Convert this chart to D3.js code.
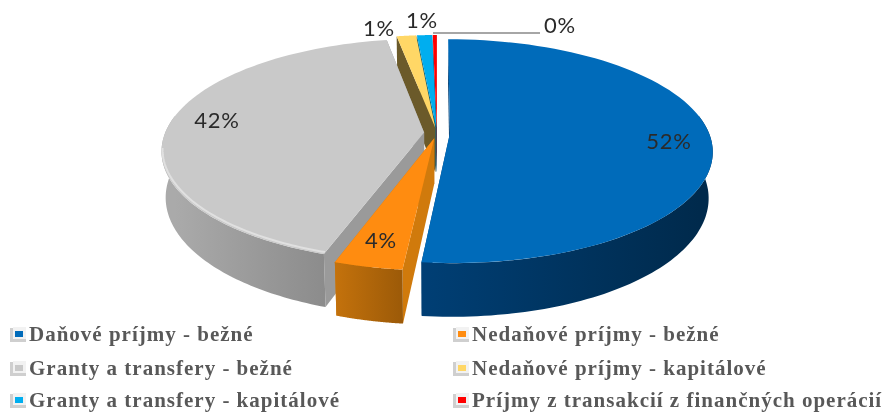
<!DOCTYPE html>
<html>
<head>
<meta charset="utf-8">
<script src="https://cdn.jsdelivr.net/npm/d3@7"></script>
<style>
html, body { margin: 0; padding: 0; background: #fff; overflow: hidden; }
svg { display: block; }
.lbl { font-family: Lato, "Open Sans", sans-serif; font-size: 22px; fill: #2b2b2b; letter-spacing: 0.8px; }
.leg { font-family: "Liberation Serif", serif; font-weight: bold; font-size: 21px; fill: #595959; letter-spacing: 1px; }
</style>
</head>
<body>
<svg id="chart" width="883" height="412"></svg>
<script>
// data
var categories = ["Daňové príjmy - bežné", "Nedaňové príjmy - bežné", "Granty a transfery - bežné",
    "Nedaňové príjmy - kapitálové", "Granty a transfery - kapitálové", "Príjmy z transakcií z finančných operácií"];
var values = [51.6, 3.6, 42.0, 1.4, 1.1, 0.3];
var labels = ["52%", "4%", "42%", "1%", "1%", "0%"];
var topColors = ["#006bba", "#ff8c10", "#c9c9c9", "#ffd766", "#00aeef", "#ff0000"];
var wallLight = ["#003f75", "#c4720c", "#aaaaaa", "#7a6630", "#006f9a", "#a00000"];
var wallDark = ["#002a4c", "#9c5a08", "#8c8c8c", "#6b5a2a", "#005a80", "#800000"];
var sideColors = ["#003f75", "#d07a0c", "#9a9a9a", "#6b5a2a", "#00688f", "#a00000"];
var labelX = [669, 381, 217, 379, 422, 560];
var labelY = [149, 248, 128, 36, 28, 33];

var svg = d3.select("#chart");
var defs = svg.append("defs");

defs.append("filter").attr("id", "soft").append("feGaussianBlur").attr("stdDeviation", 0.45);

// fake perspective of the tilted disc
var cx = 437, cy = 133, rx = 259, ry = 109, persp = 0.16, depth = 45, explode = 0.05;

var arcs = d3.pie().sort(null).value(d => d)(values);

function project(u, v, down) {
    var f = 1 / (1 + persp * v);
    var shrink = down ? 0.985 : 1;
    return [cx + u * rx * f * shrink, cy - v * ry * f + (down ? depth * f : 0)];
}

function rimPoints(a, b, mid, down) {
    var off = [Math.sin(mid) * explode, Math.cos(mid) * explode];
    return d3.range(0, 1.0001, 1 / 80).map(function(t) {
        var ang = a + (b - a) * t;
        return project(off[0] + Math.sin(ang), off[1] + Math.cos(ang), down);
    });
}

function apex(mid, down) {
    return project(Math.sin(mid) * explode, Math.cos(mid) * explode, down);
}

var line = d3.line();
var shape = pts => line(pts) + "Z";

function drawSlice(i) {
    var d = arcs[i];
    var mid = (d.startAngle + d.endAngle) / 2;
    var g = svg.append("g");

    // radial walls
    [d.endAngle, d.startAngle].forEach(function(ang) {
        var rimTop = rimPoints(ang, ang, mid, false)[0];
        var rimBot = rimPoints(ang, ang, mid, true)[0];
        g.append("path")
            .attr("d", shape([apex(mid, false), rimTop, rimBot, apex(mid, true)]))
            .attr("fill", sideColors[i]);
    });

    // outer wall, only the part turned to the viewer
    var from = Math.max(d.startAngle, Math.PI / 2 - 0.16);
    var to = Math.min(d.endAngle, Math.PI * 3 / 2 + 0.16);
    if (to > from) {
        var gradId = "wall" + i;
        var grad = defs.append("linearGradient").attr("id", gradId)
            .attr("gradientUnits", "userSpaceOnUse");
        var p0 = rimPoints(from, from, mid, false)[0];
        var p1 = rimPoints(to, to, mid, false)[0];
        grad.attr("x1", p0[0]).attr("x2", p1[0]).attr("y1", 0).attr("y2", 0);
        grad.append("stop").attr("offset", 0).attr("stop-color", wallDark[i]);
        grad.append("stop").attr("offset", 1).attr("stop-color", wallLight[i]);
        var upper = rimPoints(from, to, mid, false);
        var lower = rimPoints(from, to, mid, true).reverse();
        g.append("path").attr("d", shape(upper.concat(lower))).attr("fill", "url(#" + gradId + ")");
    }

    // top face
    var face = [apex(mid, false)].concat(rimPoints(d.startAngle, d.endAngle, mid, false));
    g.append("path").attr("d", shape(face)).attr("fill", topColors[i]);
    if (i == 2) {
        // light bevel along the front of the grey slice
        g.append("path").attr("d", line(rimPoints(d.startAngle, Math.PI * 1.45, mid, false)))
            .attr("fill", "none").attr("stroke", "#e0e0e0").attr("stroke-width", 2)
            .attr("transform", "translate(1,-2)");
    }
}

// back to front
[5, 4, 3, 2, 1, 0].forEach(drawSlice);

// leader of the 0% label
svg.append("path")
    .attr("d", line([[433, 33], [540, 33]]))
    .attr("stroke", "#a6a6a6").attr("stroke-width", 1.8).attr("fill", "none");

svg.selectAll(".lbl").data(labels).join("text")
    .attr("class", "lbl")
    .attr("x", (d, i) => labelX[i])
    .attr("y", (d, i) => labelY[i])
    .attr("text-anchor", "middle")
    .attr("filter", "url(#soft)")
    .text(d => d);

// legend, two columns
var legX = d3.scaleOrdinal().domain([0, 1]).range([10, 453]);
var legY = d3.scaleOrdinal().domain([0, 1, 2]).range([341, 375, 407]);
var leg = svg.selectAll(".item").data(categories).join("g")
    .attr("class", "item")
    .attr("transform", (d, i) => "translate(" + legX(i % 2) + "," + legY(Math.floor(i / 2)) + ")");
leg.append("rect").attr("x", 0).attr("y", -13).attr("width", 16).attr("height", 14).attr("fill", "#cfcfcf");
leg.append("rect").attr("x", 3).attr("y", -14).attr("width", 13).attr("height", 12).attr("fill", "#f2f2f2");
leg.append("rect").attr("x", 5).attr("y", -10).attr("width", 8).attr("height", 6).attr("fill", (d, i) => topColors[i]);
leg.append("text").attr("class", "leg").attr("x", 19).attr("filter", "url(#soft)").text(d => d);
</script>
</body>
</html>
